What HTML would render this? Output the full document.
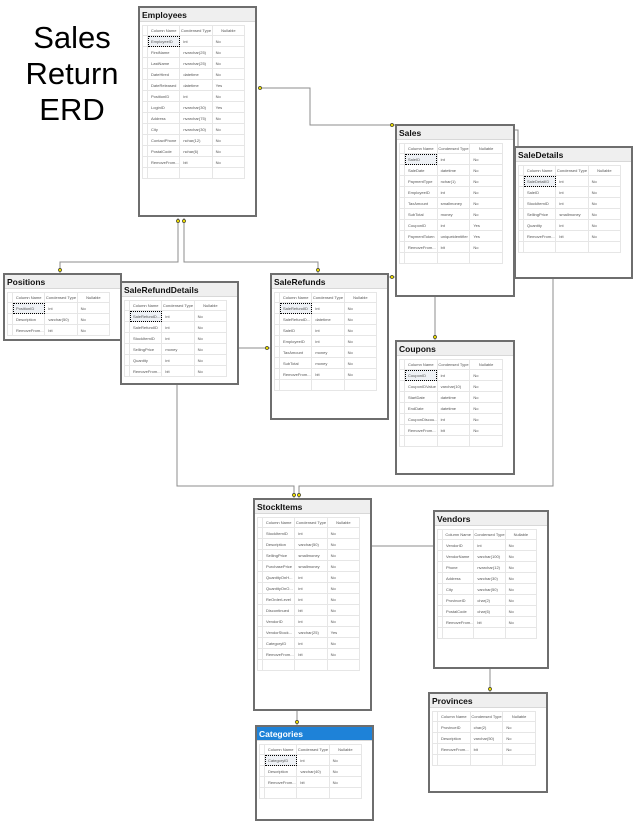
<!DOCTYPE html>
<html><head><meta charset="utf-8"><style>
body{margin:0;width:638px;height:824px;background:#fff;position:relative;overflow:hidden;font-family:"Liberation Sans",sans-serif}
.t{position:absolute;border:2px solid #6e6e6e;background:#fff;box-sizing:border-box;z-index:2}
.h{height:13px;background:#efefef;font-weight:bold;font-size:8.5px;color:#111;padding-left:2px;line-height:14px;border-bottom:1px solid #d8d8d8}
.sel .h{background:#1e82d8;color:#fff}
table{border-collapse:collapse;margin:3px 0 0 2px;width:calc(100% - 12px);font-size:4px;color:#555;table-layout:fixed}
td{border:1px solid #e6e6e6;height:10px;padding:0 0 0 3px;white-space:nowrap;overflow:hidden}
tr.hd td{height:9px;text-align:center;padding:0}
td:first-child{width:4px;padding:0}
td.k{outline:1px dotted #000;outline-offset:-1px;background:#eef1f5}
.ti{position:absolute;left:20px;top:20px;width:104px;text-align:center;font-size:31px;line-height:36px;color:#000}
svg{position:absolute;left:0;top:0;z-index:1}
</style></head><body>
<div class="ti">Sales<br>Return<br>ERD</div>
<svg width="638" height="824"><g stroke="#8c8c8c" fill="none" stroke-width="1">
<polyline points="258,88 310,88 310,125 395,125"/>
<polyline points="514,130 518,130 518,146"/>
<polyline points="178,218 178,262 60,262 60,273"/>
<polyline points="184,218 184,262 318,262 318,273"/>
<line x1="388" y1="277" x2="395" y2="277"/>
<line x1="238" y1="348" x2="270" y2="348"/>
<line x1="435" y1="297" x2="435" y2="340"/>
<polyline points="177,385 177,486 294,486 294,498"/>
<polyline points="553,279 553,486 299,486 299,498"/>
<line x1="371" y1="546" x2="433" y2="546"/>
<line x1="490" y1="668" x2="490" y2="692"/>
<line x1="297" y1="711" x2="297" y2="725"/>
</g>
<g fill="#e8d800" stroke="#222" stroke-width="0.6">
<circle cx="260" cy="88" r="1.6"/><circle cx="392" cy="125" r="1.6"/><circle cx="392" cy="277" r="1.6"/>
<circle cx="267" cy="348" r="1.6"/><circle cx="435" cy="337" r="1.6"/><circle cx="294" cy="495" r="1.6"/>
<circle cx="299" cy="495" r="1.6"/><circle cx="436" cy="546" r="1.6"/><circle cx="490" cy="689" r="1.6"/>
<circle cx="60" cy="270" r="1.6"/><circle cx="318" cy="270" r="1.6"/><circle cx="297" cy="722" r="1.6"/>
<circle cx="178" cy="221" r="1.6"/><circle cx="184" cy="221" r="1.6"/>
</g></svg>

<div class="t" style="left:138px;top:6px;width:119px;height:211px"><div class="h">Employees</div><table>
<tr class="hd"><td></td><td>Column Name</td><td>Condensed Type</td><td>Nullable</td></tr>
<tr><td></td><td class="k">EmployeeID</td><td>int</td><td>No</td></tr>
<tr><td></td><td>FirstName</td><td>nvarchar(25)</td><td>No</td></tr>
<tr><td></td><td>LastName</td><td>nvarchar(25)</td><td>No</td></tr>
<tr><td></td><td>DateHired</td><td>datetime</td><td>No</td></tr>
<tr><td></td><td>DateReleased</td><td>datetime</td><td>Yes</td></tr>
<tr><td></td><td>PositionID</td><td>int</td><td>No</td></tr>
<tr><td></td><td>LoginID</td><td>nvarchar(30)</td><td>Yes</td></tr>
<tr><td></td><td>Address</td><td>nvarchar(75)</td><td>No</td></tr>
<tr><td></td><td>City</td><td>nvarchar(30)</td><td>No</td></tr>
<tr><td></td><td>ContactPhone</td><td>nchar(12)</td><td>No</td></tr>
<tr><td></td><td>PostalCode</td><td>nchar(6)</td><td>No</td></tr>
<tr><td></td><td>RemoveFrom...</td><td>bit</td><td>No</td></tr>
<tr><td></td><td></td><td></td><td></td></tr></table></div>

<div class="t" style="left:395px;top:124px;width:120px;height:173px"><div class="h">Sales</div><table>
<tr class="hd"><td></td><td>Column Name</td><td>Condensed Type</td><td>Nullable</td></tr>
<tr><td></td><td class="k">SaleID</td><td>int</td><td>No</td></tr>
<tr><td></td><td>SaleDate</td><td>datetime</td><td>No</td></tr>
<tr><td></td><td>PaymentType</td><td>nchar(1)</td><td>No</td></tr>
<tr><td></td><td>EmployeeID</td><td>int</td><td>No</td></tr>
<tr><td></td><td>TaxAmount</td><td>smallmoney</td><td>No</td></tr>
<tr><td></td><td>SubTotal</td><td>money</td><td>No</td></tr>
<tr><td></td><td>CouponID</td><td>int</td><td>Yes</td></tr>
<tr><td></td><td>PaymentToken</td><td>uniqueidentifier</td><td>Yes</td></tr>
<tr><td></td><td>RemoveFrom...</td><td>bit</td><td>No</td></tr>
<tr><td></td><td></td><td></td><td></td></tr></table></div>

<div class="t" style="left:514px;top:146px;width:119px;height:133px"><div class="h">SaleDetails</div><table>
<tr class="hd"><td></td><td>Column Name</td><td>Condensed Type</td><td>Nullable</td></tr>
<tr><td></td><td class="k">SaleDetailID</td><td>int</td><td>No</td></tr>
<tr><td></td><td>SaleID</td><td>int</td><td>No</td></tr>
<tr><td></td><td>StockItemID</td><td>int</td><td>No</td></tr>
<tr><td></td><td>SellingPrice</td><td>smallmoney</td><td>No</td></tr>
<tr><td></td><td>Quantity</td><td>int</td><td>No</td></tr>
<tr><td></td><td>RemoveFrom...</td><td>bit</td><td>No</td></tr>
<tr><td></td><td></td><td></td><td></td></tr></table></div>

<div class="t" style="left:3px;top:273px;width:119px;height:68px"><div class="h">Positions</div><table>
<tr class="hd"><td></td><td>Column Name</td><td>Condensed Type</td><td>Nullable</td></tr>
<tr><td></td><td class="k">PositionID</td><td>int</td><td>No</td></tr>
<tr><td></td><td>Description</td><td>varchar(50)</td><td>No</td></tr>
<tr><td></td><td>RemoveFrom...</td><td>bit</td><td>No</td></tr></table></div>

<div class="t" style="left:120px;top:281px;width:119px;height:104px"><div class="h">SaleRefundDetails</div><table>
<tr class="hd"><td></td><td>Column Name</td><td>Condensed Type</td><td>Nullable</td></tr>
<tr><td></td><td class="k">SaleRefundD...</td><td>int</td><td>No</td></tr>
<tr><td></td><td>SaleRefundID</td><td>int</td><td>No</td></tr>
<tr><td></td><td>StockItemID</td><td>int</td><td>No</td></tr>
<tr><td></td><td>SellingPrice</td><td>money</td><td>No</td></tr>
<tr><td></td><td>Quantity</td><td>int</td><td>No</td></tr>
<tr><td></td><td>RemoveFrom...</td><td>bit</td><td>No</td></tr></table></div>

<div class="t" style="left:270px;top:273px;width:119px;height:147px"><div class="h">SaleRefunds</div><table>
<tr class="hd"><td></td><td>Column Name</td><td>Condensed Type</td><td>Nullable</td></tr>
<tr><td></td><td class="k">SaleRefundID</td><td>int</td><td>No</td></tr>
<tr><td></td><td>SaleRefundD...</td><td>datetime</td><td>No</td></tr>
<tr><td></td><td>SaleID</td><td>int</td><td>No</td></tr>
<tr><td></td><td>EmployeeID</td><td>int</td><td>No</td></tr>
<tr><td></td><td>TaxAmount</td><td>money</td><td>No</td></tr>
<tr><td></td><td>SubTotal</td><td>money</td><td>No</td></tr>
<tr><td></td><td>RemoveFrom...</td><td>bit</td><td>No</td></tr>
<tr><td></td><td></td><td></td><td></td></tr></table></div>

<div class="t" style="left:395px;top:340px;width:120px;height:135px"><div class="h">Coupons</div><table>
<tr class="hd"><td></td><td>Column Name</td><td>Condensed Type</td><td>Nullable</td></tr>
<tr><td></td><td class="k">CouponID</td><td>int</td><td>No</td></tr>
<tr><td></td><td>CouponIDValue</td><td>varchar(10)</td><td>No</td></tr>
<tr><td></td><td>StartDate</td><td>datetime</td><td>No</td></tr>
<tr><td></td><td>EndDate</td><td>datetime</td><td>No</td></tr>
<tr><td></td><td>CouponDiscou...</td><td>int</td><td>No</td></tr>
<tr><td></td><td>RemoveFrom...</td><td>bit</td><td>No</td></tr>
<tr><td></td><td></td><td></td><td></td></tr></table></div>

<div class="t" style="left:253px;top:498px;width:119px;height:213px"><div class="h">StockItems</div><table>
<tr class="hd"><td></td><td>Column Name</td><td>Condensed Type</td><td>Nullable</td></tr>
<tr><td></td><td>StockItemID</td><td>int</td><td>No</td></tr>
<tr><td></td><td>Description</td><td>varchar(50)</td><td>No</td></tr>
<tr><td></td><td>SellingPrice</td><td>smallmoney</td><td>No</td></tr>
<tr><td></td><td>PurchasePrice</td><td>smallmoney</td><td>No</td></tr>
<tr><td></td><td>QuantityOnH...</td><td>int</td><td>No</td></tr>
<tr><td></td><td>QuantityOnO...</td><td>int</td><td>No</td></tr>
<tr><td></td><td>ReOrderLevel</td><td>int</td><td>No</td></tr>
<tr><td></td><td>Discontinued</td><td>bit</td><td>No</td></tr>
<tr><td></td><td>VendorID</td><td>int</td><td>No</td></tr>
<tr><td></td><td>VendorStock...</td><td>varchar(25)</td><td>Yes</td></tr>
<tr><td></td><td>CategoryID</td><td>int</td><td>No</td></tr>
<tr><td></td><td>RemoveFrom...</td><td>bit</td><td>No</td></tr>
<tr><td></td><td></td><td></td><td></td></tr></table></div>

<div class="t" style="left:433px;top:510px;width:116px;height:159px"><div class="h">Vendors</div><table>
<tr class="hd"><td></td><td>Column Name</td><td>Condensed Type</td><td>Nullable</td></tr>
<tr><td></td><td>VendorID</td><td>int</td><td>No</td></tr>
<tr><td></td><td>VendorName</td><td>varchar(100)</td><td>No</td></tr>
<tr><td></td><td>Phone</td><td>nvarchar(12)</td><td>No</td></tr>
<tr><td></td><td>Address</td><td>varchar(30)</td><td>No</td></tr>
<tr><td></td><td>City</td><td>varchar(50)</td><td>No</td></tr>
<tr><td></td><td>ProvinceID</td><td>char(2)</td><td>No</td></tr>
<tr><td></td><td>PostalCode</td><td>char(6)</td><td>No</td></tr>
<tr><td></td><td>RemoveFrom...</td><td>bit</td><td>No</td></tr>
<tr><td></td><td></td><td></td><td></td></tr></table></div>

<div class="t" style="left:428px;top:692px;width:120px;height:101px"><div class="h">Provinces</div><table>
<tr class="hd"><td></td><td>Column Name</td><td>Condensed Type</td><td>Nullable</td></tr>
<tr><td></td><td>ProvinceID</td><td>char(2)</td><td>No</td></tr>
<tr><td></td><td>Description</td><td>varchar(50)</td><td>No</td></tr>
<tr><td></td><td>RemoveFrom...</td><td>bit</td><td>No</td></tr>
<tr><td></td><td></td><td></td><td></td></tr></table></div>

<div class="t sel" style="left:255px;top:725px;width:119px;height:96px"><div class="h">Categories</div><table>
<tr class="hd"><td></td><td>Column Name</td><td>Condensed Type</td><td>Nullable</td></tr>
<tr><td></td><td class="k">CategoryID</td><td>int</td><td>No</td></tr>
<tr><td></td><td>Description</td><td>varchar(40)</td><td>No</td></tr>
<tr><td></td><td>RemoveFrom...</td><td>bit</td><td>No</td></tr>
<tr><td></td><td></td><td></td><td></td></tr></table></div>
</body></html>
